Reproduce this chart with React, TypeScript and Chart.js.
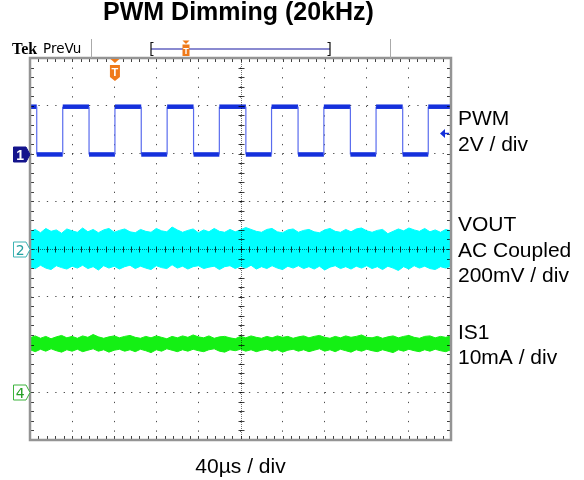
import React, { useEffect, useRef } from "react";
import { Chart, registerables } from "chart.js";

Chart.register(...registerables);

// ---- scope settings ----
const TIME_PER_DIV_US = 40;
const X_DIVS = 10;
const Y_DIVS = 8;

// ---- PWM (channel 1), in divisions ----
const pwmFallUs = [6.4, 56.1, 105.7, 155.4, 205.1, 254.7, 304.4, 354.1];
const pwmRiseUs = [31.1, 80.7, 130.3, 179.9, 229.5, 279.2, 328.8, 378.4];
const pwmHighDiv = 2.98;
const pwmLowDiv = 1.98;
const triggerTimeUs = 80.7;
const triggerLevelDiv = 2.42;

// ---- VOUT (channel 2) noise envelope, in divisions, sampled every 5 µs ----
const voutUpper = [
  0.36, 0.41, 0.34, 0.43, 0.37, 0.40, 0.33, 0.42, 0.38, 0.35,
  0.44, 0.36, 0.41, 0.34, 0.40, 0.43, 0.35, 0.39, 0.42, 0.36,
  0.34, 0.41, 0.37, 0.35, 0.43, 0.38, 0.36, 0.46, 0.40, 0.35,
  0.39, 0.42, 0.34, 0.40, 0.36, 0.43, 0.37, 0.35, 0.41, 0.36,
  0.40, 0.45, 0.41, 0.37, 0.35, 0.41, 0.43, 0.36, 0.34, 0.40,
  0.42, 0.35, 0.39, 0.41, 0.36, 0.34, 0.40, 0.43, 0.37, 0.35,
  0.41, 0.36, 0.42, 0.44, 0.38, 0.35, 0.39, 0.41, 0.32, 0.37,
  0.42, 0.38, 0.44, 0.40, 0.37, 0.43, 0.36, 0.40, 0.35, 0.41, 0.38,
];
const voutLower = [
  -0.37, -0.41, -0.34, -0.40, -0.43, -0.35, -0.39, -0.42, -0.36, -0.40,
  -0.34, -0.41, -0.37, -0.44, -0.35, -0.40, -0.36, -0.42, -0.37, -0.34,
  -0.41, -0.36, -0.40, -0.43, -0.35, -0.39, -0.41, -0.33, -0.40, -0.36,
  -0.42, -0.37, -0.35, -0.41, -0.38, -0.36, -0.43, -0.37, -0.35, -0.41,
  -0.36, -0.40, -0.34, -0.42, -0.37, -0.41, -0.35, -0.40, -0.43, -0.36,
  -0.40, -0.35, -0.41, -0.37, -0.42, -0.36, -0.44, -0.38, -0.35, -0.41,
  -0.37, -0.42, -0.36, -0.40, -0.35, -0.41, -0.37, -0.43, -0.36, -0.40,
  -0.45, -0.37, -0.42, -0.35, -0.40, -0.36, -0.41, -0.43, -0.37, -0.40, -0.36,
];

// ---- IS1 (channel 4) noise envelope, in divisions ----
const is1Upper = [
  -1.86, -1.82, -1.87, -1.83, -1.88, -1.84, -1.81, -1.86, -1.83, -1.87,
  -1.82, -1.85, -1.79, -1.84, -1.87, -1.84, -1.82, -1.86, -1.83, -1.81,
  -1.85, -1.87, -1.83, -1.86, -1.82, -1.85, -1.88, -1.83, -1.86, -1.82,
  -1.85, -1.80, -1.84, -1.86, -1.82, -1.87, -1.84, -1.83, -1.86, -1.88,
  -1.83, -1.86, -1.82, -1.85, -1.87, -1.83, -1.86, -1.82, -1.85, -1.83,
  -1.87, -1.84, -1.82, -1.86, -1.83, -1.81, -1.85, -1.87, -1.83, -1.86,
  -1.82, -1.85, -1.83, -1.80, -1.85, -1.86, -1.83, -1.87, -1.84, -1.82,
  -1.86, -1.83, -1.81, -1.85, -1.87, -1.83, -1.82, -1.86, -1.83, -1.85, -1.82,
];
const is1Lower = [
  -2.11, -2.15, -2.10, -2.14, -2.09, -2.13, -2.16, -2.11, -2.14, -2.10,
  -2.15, -2.12, -2.09, -2.14, -2.11, -2.16, -2.12, -2.10, -2.14, -2.11,
  -2.15, -2.10, -2.13, -2.17, -2.11, -2.14, -2.09, -2.12, -2.15, -2.11,
  -2.14, -2.10, -2.13, -2.15, -2.11, -2.09, -2.14, -2.16, -2.11, -2.13,
  -2.10, -2.14, -2.11, -2.15, -2.12, -2.10, -2.14, -2.11, -2.16, -2.12,
  -2.10, -2.14, -2.11, -2.15, -2.12, -2.09, -2.14, -2.11, -2.15, -2.10,
  -2.13, -2.16, -2.11, -2.14, -2.10, -2.13, -2.15, -2.11, -2.14, -2.17,
  -2.11, -2.14, -2.10, -2.13, -2.15, -2.11, -2.14, -2.10, -2.13, -2.15, -2.11,
];
const envelopeStepUs = 5;

// ---- channel reference markers & labels ----
const channelNames = ["1", "2", "4"];
const channelLevelsDiv = [pwmLowDiv, 0, -3];
const labelCentersDiv = [2.48, 0, -1.99];
const channelLabels = [
  ["PWM", "2V / div"],
  ["VOUT", "AC Coupled", "200mV / div"],
  ["IS1", "10mA / div"],
];
const titleText = "PWM Dimming (20kHz)";
const timebaseText = "40µs / div";

const COL_PWM = "#1430DC";
const COL_PWM_EDGE = "#5A6CEE";
const COL_VOUT = "#00FFFF";
const COL_IS1 = "#14F014";
const SANS = '"Liberation Sans", Arial, sans-serif';

function buildPwm() {
  const pts: { x: number; y: number }[] = [{ x: 0, y: pwmHighDiv }];
  for (let i = 0; i < pwmFallUs.length; i++) {
    pts.push({ x: pwmFallUs[i], y: pwmHighDiv });
    pts.push({ x: pwmFallUs[i], y: pwmLowDiv });
    pts.push({ x: pwmRiseUs[i], y: pwmLowDiv });
    pts.push({ x: pwmRiseUs[i], y: pwmHighDiv });
  }
  pts.push({ x: TIME_PER_DIV_US * X_DIVS, y: pwmHighDiv });
  return pts;
}

function toPts(vals: number[]) {
  return vals.map((v, i) => ({ x: i * envelopeStepUs, y: v }));
}

const scopeDecor = {
  id: "scopeDecor",
  afterDraw(chart: any) {
    const ctx: CanvasRenderingContext2D = chart.ctx;
    const ca = chart.chartArea;
    const xs = chart.scales.x;
    const ys = chart.scales.y;
    const px = (v: number) => xs.getPixelForValue(v);
    const py = (v: number) => ys.getPixelForValue(v);
    const xMax = TIME_PER_DIV_US * X_DIVS;
    const cx = Math.round(px(xMax / 2)) + 0.5;
    const cy = Math.round(py(0)) + 0.5;
    ctx.save();

    // centre cross (fine dotted) + minor ticks
    ctx.strokeStyle = "rgba(0,0,0,0.55)";
    ctx.lineWidth = 1;
    ctx.setLineDash([1, 1]);
    ctx.beginPath();
    ctx.moveTo(ca.left, cy);
    ctx.lineTo(ca.right, cy);
    ctx.moveTo(cx, ca.top);
    ctx.lineTo(cx, ca.bottom);
    ctx.stroke();
    ctx.setLineDash([]);
    ctx.strokeStyle = "rgba(0,0,0,0.75)";
    ctx.beginPath();
    for (let i = 0; i <= X_DIVS * 5; i++) {
      const x = Math.round(px((i * TIME_PER_DIV_US) / 5)) + 0.5;
      ctx.moveTo(x, cy - 3);
      ctx.lineTo(x, cy + 3);
      ctx.moveTo(x, ca.top + 1);
      ctx.lineTo(x, ca.top + 4);
      ctx.moveTo(x, ca.bottom - 4);
      ctx.lineTo(x, ca.bottom - 1);
    }
    for (let i = 0; i <= Y_DIVS * 5; i++) {
      const y = Math.round(py(-Y_DIVS / 2 + i / 5)) + 0.5;
      ctx.moveTo(cx - 3, y);
      ctx.lineTo(cx + 3, y);
      ctx.moveTo(ca.left + 1, y);
      ctx.lineTo(ca.left + 4, y);
      ctx.moveTo(ca.right - 4, y);
      ctx.lineTo(ca.right - 1, y);
    }
    ctx.stroke();

    // frame
    ctx.strokeStyle = "#949494";
    ctx.lineWidth = 2.5;
    ctx.strokeRect(ca.left, ca.top, ca.right - ca.left, ca.bottom - ca.top);

    // header
    ctx.strokeStyle = "#aaaaaa";
    ctx.lineWidth = 1;
    ctx.beginPath();
    ctx.moveTo(91.5, 39);
    ctx.lineTo(91.5, ca.top);
    ctx.moveTo(390.5, 39);
    ctx.lineTo(390.5, ca.top);
    ctx.stroke();
    ctx.fillStyle = "#000";
    ctx.textBaseline = "alphabetic";
    ctx.textAlign = "left";
    ctx.font = 'bold 16px "Liberation Serif", serif';
    ctx.fillText("Tek", 12, 54);
    ctx.font = '13.5px "DejaVu Sans", sans-serif';
    ctx.fillText("PreVu", 43, 53);
    // record bar
    ctx.strokeStyle = "#8a8ad0";
    ctx.lineWidth = 2;
    ctx.beginPath();
    ctx.moveTo(151, 49);
    ctx.lineTo(330, 49);
    ctx.stroke();
    ctx.strokeStyle = "#111";
    ctx.lineWidth = 1.2;
    ctx.beginPath();
    ctx.moveTo(153.5, 42.5);
    ctx.lineTo(151, 42.5);
    ctx.lineTo(151, 55.5);
    ctx.lineTo(153.5, 55.5);
    ctx.moveTo(327.5, 42.5);
    ctx.lineTo(330, 42.5);
    ctx.lineTo(330, 55.5);
    ctx.lineTo(327.5, 55.5);
    ctx.stroke();
    const orange = "#F07A1A";
    ctx.fillStyle = orange;
    ctx.beginPath();
    ctx.moveTo(182.5, 40.5);
    ctx.lineTo(189.5, 40.5);
    ctx.lineTo(186, 44);
    ctx.closePath();
    ctx.fill();
    ctx.fillRect(182.5, 44.5, 7, 11.5);
    ctx.fillStyle = "#fff";
    ctx.font = 'bold 9px "Liberation Sans", sans-serif';
    ctx.textAlign = "center";
    ctx.fillText("T", 186, 54);

    // trigger position marker
    const tx = px(triggerTimeUs);
    ctx.fillStyle = orange;
    ctx.beginPath();
    ctx.moveTo(tx - 4.5, ca.top + 1);
    ctx.lineTo(tx + 4.5, ca.top + 1);
    ctx.lineTo(tx, ca.top + 5);
    ctx.closePath();
    ctx.fill();
    ctx.beginPath();
    ctx.moveTo(tx - 5, ca.top + 7);
    ctx.lineTo(tx + 5, ca.top + 7);
    ctx.lineTo(tx + 5, ca.top + 19);
    ctx.lineTo(tx, ca.top + 23);
    ctx.lineTo(tx - 5, ca.top + 19);
    ctx.closePath();
    ctx.fill();
    ctx.fillStyle = "#fff";
    ctx.font = 'bold 11px "Liberation Sans", sans-serif';
    ctx.fillText("T", tx, ca.top + 18);

    // trigger level arrow
    const ty = Math.round(py(triggerLevelDiv)) + 0.5;
    ctx.strokeStyle = COL_PWM;
    ctx.fillStyle = COL_PWM;
    ctx.lineWidth = 1.5;
    ctx.beginPath();
    ctx.moveTo(ca.right - 8, ty);
    ctx.lineTo(ca.right - 2, ty);
    ctx.stroke();
    ctx.beginPath();
    ctx.moveTo(ca.right - 11, ty);
    ctx.lineTo(ca.right - 6, ty - 4.5);
    ctx.lineTo(ca.right - 6, ty + 4.5);
    ctx.closePath();
    ctx.fill();

    // channel markers
    const mk = [
      { fill: "#14148C", stroke: "#14148C", text: "#fff" },
      { fill: "#fff", stroke: "#3CB4B4", text: "#24A0A0" },
      { fill: "#fff", stroke: "#3CB43C", text: "#24A024" },
    ];
    channelNames.forEach((name, i) => {
      const y = Math.round(py(channelLevelsDiv[i])) + 0.5;
      const l = 13.5;
      const r = ca.left - 4;
      ctx.beginPath();
      ctx.moveTo(l, y - 7.5);
      ctx.lineTo(r, y - 7.5);
      ctx.lineTo(ca.left, y);
      ctx.lineTo(r, y + 7.5);
      ctx.lineTo(l, y + 7.5);
      ctx.closePath();
      ctx.fillStyle = mk[i].fill;
      ctx.fill();
      ctx.strokeStyle = mk[i].stroke;
      ctx.lineWidth = 1;
      ctx.stroke();
      ctx.fillStyle = mk[i].text;
      ctx.textAlign = "center";
      ctx.font = i === 0 ? 'bold 14px "Liberation Sans", sans-serif' : '14px "DejaVu Sans", sans-serif';
      ctx.fillText(name, (l + r) / 2 + 0.5, y + 5);
    });

    // right-hand labels
    ctx.fillStyle = "#000";
    ctx.textAlign = "left";
    ctx.font = "21px " + SANS;
    const lh = 25.3;
    channelLabels.forEach((lines, i) => {
      const c = py(labelCentersDiv[i]);
      const first = c - ((lines.length - 1) * lh) / 2 + 7.5;
      lines.forEach((s, j) => ctx.fillText(s, ca.right + 7, first + j * lh));
    });

    // title & timebase
    ctx.textAlign = "center";
    ctx.font = "bold 25px " + SANS;
    ctx.fillText(titleText, (ca.left + ca.right) / 2 - 2, 19.5);
    ctx.font = "21px " + SANS;
    ctx.fillText(timebaseText, (ca.left + ca.right) / 2, ca.bottom + 33);
    ctx.restore();
  },
};

export default function App() {
  const ref = useRef<HTMLCanvasElement | null>(null);
  useEffect(() => {
    if (!ref.current) return;
    const xMax = TIME_PER_DIV_US * X_DIVS;
    const common = { pointRadius: 0, borderWidth: 1, tension: 0 };
    const chart = new Chart(ref.current, {
      type: "line",
      data: {
        datasets: [
          { ...common, label: "VOUT+", data: toPts(voutUpper), borderColor: COL_VOUT, backgroundColor: COL_VOUT, fill: "+1" },
          { ...common, label: "VOUT-", data: toPts(voutLower), borderColor: COL_VOUT, backgroundColor: COL_VOUT, fill: false },
          { ...common, label: "IS1+", data: toPts(is1Upper), borderColor: COL_IS1, backgroundColor: COL_IS1, fill: "+1" },
          { ...common, label: "IS1-", data: toPts(is1Lower), borderColor: COL_IS1, backgroundColor: COL_IS1, fill: false },
          {
            ...common,
            label: "PWM",
            data: buildPwm(),
            borderColor: COL_PWM,
            fill: false,
            segment: {
              borderWidth: (c: any) => (c.p0.parsed.y === c.p1.parsed.y ? 4.5 : 1.2),
              borderColor: (c: any) => (c.p0.parsed.y === c.p1.parsed.y ? COL_PWM : COL_PWM_EDGE),
            },
          } as any,
        ],
      },
      options: {
        responsive: false,
        animation: false,
        layout: { padding: { left: 30, top: 58, right: 133, bottom: 40 } },
        plugins: { legend: { display: false }, tooltip: { enabled: false }, title: { display: false } },
        events: [],
        scales: {
          x: {
            type: "linear",
            min: 0,
            max: xMax,
            z: 1,
            ticks: { display: false, stepSize: TIME_PER_DIV_US },
            grid: { color: "rgba(0,0,0,0.7)", lineWidth: 1, drawTicks: false },
            border: { display: false, dash: [1.3, 8.25] },
          },
          y: {
            type: "linear",
            min: -Y_DIVS / 2,
            max: Y_DIVS / 2,
            z: 1,
            ticks: { display: false, stepSize: 1 },
            grid: { color: "rgba(0,0,0,0.7)", lineWidth: 1, drawTicks: false },
            border: { display: false, dash: [1.3, 7.12] },
          },
        },
      } as any,
      plugins: [scopeDecor],
    });
    return () => chart.destroy();
  }, []);
  return (
    <div style={{ position: "fixed", left: 0, top: 0, width: 584, height: 480, background: "#fff" }}>
      <canvas ref={ref} width={584} height={480} style={{ width: 584, height: 480 }} />
    </div>
  );
}
